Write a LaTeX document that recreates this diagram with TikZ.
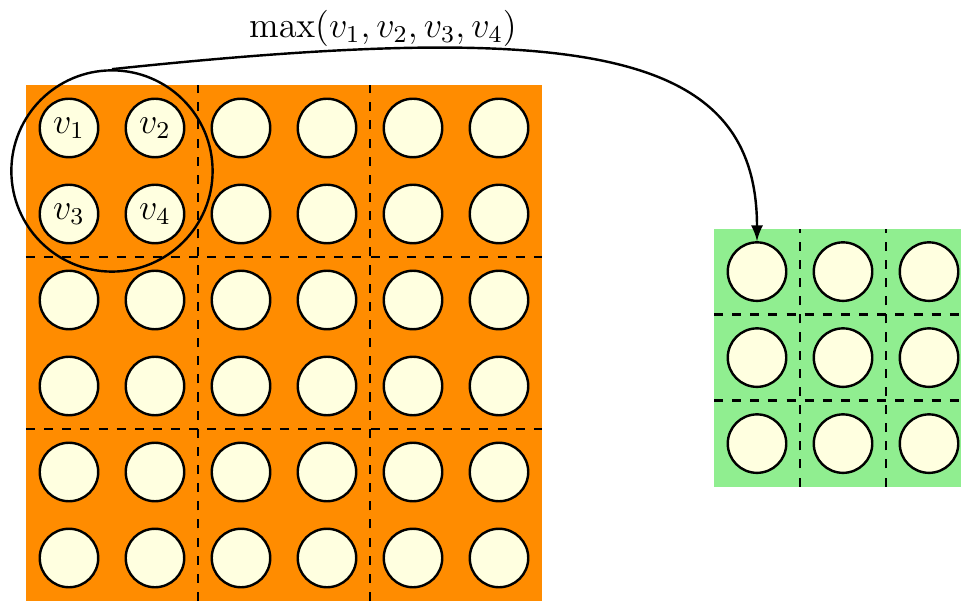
\documentclass[tikz,border=0pt]{standalone}
\usepackage[svgnames]{xcolor}
\begin{document}
\begin{tikzpicture}[>=latex, font=\large,
  cell/.style={draw, thick, circle, fill=LightYellow, minimum size=0.68cm, inner sep=0pt}]
\useasboundingbox (-0.302,0) rectangle (10.872,6.988);

% input map, 6x6, pooled in 2x2 blocks
\fill[DarkOrange] (0,0) rectangle (6,6);
\draw[thick, dashed] (2,0) -- (2,6) (4,0) -- (4,6) (0,2) -- (6,2) (0,4) -- (6,4);
\foreach \i in {1,...,6}
  \foreach \j in {1,...,6}
    \node[cell] (in-\i-\j) at (\j-0.5, 6.5-\i) {};
\foreach \i/\j/\k in {1/1/1, 1/2/2, 2/1/3, 2/2/4}
  \node[inner sep=0pt] (v\k) at (in-\i-\j) {$v_\k$};

% output map, 3x3
\fill[LightGreen] (8,1.33) rectangle (11,4.33);
\draw[thick, dashed] (9,1.33) -- (9,4.33) (10,1.33) -- (10,4.33) (8,2.33) -- (11,2.33) (8,3.33) -- (11,3.33);
\foreach \i in {1,...,3}
  \foreach \j in {1,...,3}
    \node[cell] (out-\i-\j) at (\j+7.5, 4.83-\i) {};

% first pooling window
\node[draw, thick, circle, minimum size=2.34cm] (pool) at (1,5) {};
\draw[->, thick] (pool.north) .. controls +(5.5,0.58) and +(0,2.23) .. (out-1-1.north);
\node (maxlabel) at (4.15,6.66) {$\max(v_1, v_2, v_3, v_4)$};
\end{tikzpicture}
\end{document}
